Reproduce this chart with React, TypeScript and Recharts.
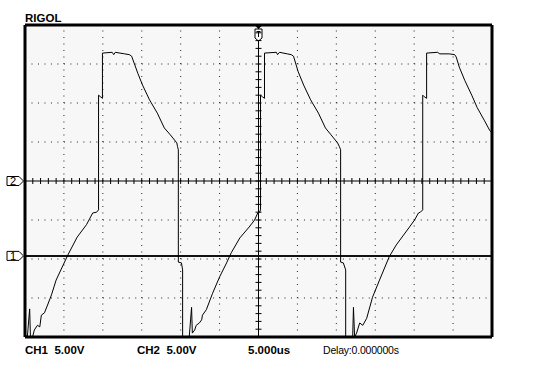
import React from 'react';
import {
  ComposedChart, Line, Scatter, XAxis, YAxis, ReferenceLine, CartesianGrid,
} from 'recharts';

// CH2 trace: time in us, volts (5 V/div, ground at centre)
const ch2Time = [
  -30.0, -29.7, -29.4, -29.3, -29.0, -28.8, -28.4, -28.1, -27.9, -27.5, -27.1, -26.6, -26.0,
  -24.5, -23.3, -22.1, -21.3, -20.8, -20.55, -20.55, -20.3, -20.05, -20.05, -18.8, -18.6, -18.4,
  -17.2, -16.6, -16.3, -15.5, -14.9, -14.0, -13.0, -12.1, -11.4, -10.5, -10.4, -10.3, -10.3,
  -9.9, -9.75, -9.75, -8.9, -8.6, -8.5, -8.2, -8.0, -7.6, -7.3, -7.2, -6.7, -5.9, -5.0, -4.1,
  -3.5, -2.4, -1.2, -0.5, -0.1, 0.13, 0.26, 0.26, 0.5, 0.77, 0.77, 2.3, 2.45, 2.7, 3.7, 4.2,
  4.5, 5.1, 5.8, 6.7, 7.7, 8.6, 9.25, 10.15, 10.4, 10.55, 10.55, 10.9, 11.2, 11.2, 12.1, 12.2,
  12.35, 12.6, 13.0, 13.4, 13.9, 14.65, 15.55, 16.8, 17.7, 19.4, 20.05, 20.55, 20.8, 21.1,
  21.1, 21.3, 21.6, 21.6, 23.0, 23.3, 24.5, 25.2, 25.4, 25.8, 26.5, 27.4, 28.1, 29.0, 29.7, 29.95,
];
const ch2Volts = [
  -19.7, -20.0, -16.4, -20.0, -19.9, -19.1, -18.5, -18.7, -17.2, -16.9, -15.9, -14.6, -12.7,
  -9.5, -7.2, -5.6, -4.1, -4.0, -3.7, 11.0, 10.8, 10.6, 16.4, 16.5, 16.2, 16.5,
  16.3, 16.2, 16.0, 13.8, 12.3, 10.4, 8.7, 6.8, 6.0, 4.9, 4.4, 4.0, -10.4,
  -10.5, -11.4, -20.0, -20.0, -16.2, -19.5, -19.1, -18.5, -18.2, -17.8, -17.2, -16.5, -14.4, -12.3, -10.5,
  -9.2, -7.3, -5.9, -5.0, -4.1, -4.0, -3.7, 11.0, 10.8, 10.6, 16.4, 16.5, 16.2, 16.5, 16.3, 16.2,
  16.0, 14.0, 12.3, 10.4, 8.7, 6.8, 6.0, 4.9, 4.4, 4.0, -10.4, -10.5, -11.4, -20.0, -20.0, -16.2,
  -20.0, -19.5, -18.2, -18.5, -17.6, -14.9, -12.7, -9.7, -8.2, -5.9, -5.0, -4.1, -4.0, -3.7,
  11.0, 10.8, 10.6, 16.4, 16.5, 16.3, 16.3, 16.2, 15.9, 14.6, 12.9, 11.0, 9.4, 7.8, 6.5, 6.2,
];

// CH1 is a flat line sitting at its own offset
const ch1Time = [-30, 30];
const ch1Volts = [-9.6, -9.6];

// 12 x 8 divisions, 5 us/div and 5 V/div
const timeGrid = [-25, -20, -15, -10, -5, 5, 10, 15, 20, 25];
const voltGrid = [-15, -10, -5, 5, 10, 15];
const timeSub = Array.from({ length: 61 }, (_, i) => i - 30);
const voltSub = Array.from({ length: 41 }, (_, i) => i - 20);

const ch2Data = ch2Time.map((t, i) => ({ t, v: ch2Volts[i] }));
const ch1Data = ch1Time.map((t, i) => ({ t, v: ch1Volts[i] }));
const xCross = timeSub.map((t) => ({ t, v: 0 }));
const yCross = voltSub.map((v) => ({ t: 0, v }));

const font = '"Liberation Sans", Arial, sans-serif';

const ChannelMark = ({ viewBox, num }: any) => {
  if (!viewBox) return null;
  const x = viewBox.x;
  const y = viewBox.y;
  return (
    <g>
      <path
        d={`M${x - 18},${y - 4.5} H${x - 6} L${x - 1.5},${y} L${x - 6},${y + 4.5} H${x - 18} Z`}
        fill="#fff" stroke="#000" strokeWidth={1}
      />
      <text x={x - 12} y={y + 4} textAnchor="middle" fontSize={11} fontFamily={font} fill="#000">{num}</text>
    </g>
  );
};

const TriggerMark = ({ viewBox }: any) => {
  if (!viewBox) return null;
  const x = viewBox.x;
  const y = viewBox.y;
  return (
    <g>
      <path d={`M${x - 3},${y + 1} L${x + 3},${y + 1} L${x},${y + 4} Z`} fill="#000" />
      <path
        d={`M${x - 3.5},${y + 4} H${x + 3.5} V${y + 13} L${x},${y + 16} L${x - 3.5},${y + 13} Z`}
        fill="#fff" stroke="#000" strokeWidth={1}
      />
      <path d={`M${x - 2},${y + 6.5} H${x + 2} M${x},${y + 6.5} V${y + 12}`} stroke="#000" strokeWidth={1} />
    </g>
  );
};

const xTick = (p: any) => (
  <line x1={p.cx} x2={p.cx} y1={p.cy - 3} y2={p.cy + 3} stroke="#000" strokeWidth={1} />
);
const yTick = (p: any) => (
  <line x1={p.cx - 3} x2={p.cx + 3} y1={p.cy} y2={p.cy} stroke="#000" strokeWidth={1} />
);

const label = (text: string, left: number, bold = true, size = 11.5, spacing = 0) => (
  <div
    style={{
      position: 'absolute', left, top: 344, fontFamily: font, fontSize: size,
      fontWeight: bold ? 700 : 400, lineHeight: '12px', whiteSpace: 'pre', letterSpacing: spacing,
    }}
  >
    {text}
  </div>
);

export default function App() {
  const frame = { stroke: '#000', strokeWidth: 3 };
  const tickL = { stroke: '#000', strokeWidth: 1 };
  return (
    <div style={{ position: 'absolute', left: 0, top: 0, width: 546, height: 390, background: '#fff' }}>
      <div
        style={{
          position: 'absolute', left: 25, top: 11.5, fontFamily: font, fontSize: 11.5,
          fontWeight: 700, lineHeight: '12px',
        }}
      >
        RIGOL
      </div>
      <ComposedChart width={546} height={390} margin={{ top: 25, right: 54, bottom: 53, left: 25 }}>
        <CartesianGrid horizontal={false} vertical={false} fill="#f7f7f7" xAxisId="t" yAxisId="v" />
        <XAxis xAxisId="t" dataKey="t" type="number" domain={[-30, 30]} hide allowDataOverflow />
        <YAxis yAxisId="v" dataKey="v" type="number" domain={[-20, 20]} hide allowDataOverflow />

        {timeGrid.map((t) => (
          <ReferenceLine key={'gx' + t} xAxisId="t" yAxisId="v" x={t} stroke="#222" strokeDasharray="1 5.5" />
        ))}
        {voltGrid.map((v) => (
          <ReferenceLine key={'gy' + v} xAxisId="t" yAxisId="v" y={v} stroke="#222" strokeDasharray="1 5.487" />
        ))}
        <ReferenceLine xAxisId="t" yAxisId="v" y={0} stroke="#000" label={<ChannelMark num="2" />} />
        <ReferenceLine xAxisId="t" yAxisId="v" x={0} stroke="#000" label={<TriggerMark />} />
        <ReferenceLine xAxisId="t" yAxisId="v" y={ch1Volts[0]} strokeOpacity={0} label={<ChannelMark num="1" />} />

        <XAxis xAxisId="top" orientation="top" mirror type="number" domain={[-30, 30]} ticks={timeSub}
          interval={0} tick={false} tickSize={4} axisLine={frame} tickLine={tickL} />
        <XAxis xAxisId="bottom" orientation="bottom" mirror type="number" domain={[-30, 30]} ticks={timeSub}
          interval={0} tick={false} tickSize={4} axisLine={frame} tickLine={tickL} />
        <YAxis yAxisId="left" orientation="left" mirror type="number" domain={[-20, 20]} ticks={voltSub}
          interval={0} tick={false} tickSize={4} axisLine={frame} tickLine={tickL} />
        <YAxis yAxisId="right" orientation="right" mirror type="number" domain={[-20, 20]} ticks={voltSub}
          interval={0} tick={false} tickSize={4} axisLine={frame} tickLine={tickL} />

        <Scatter xAxisId="t" yAxisId="v" data={xCross} shape={xTick} isAnimationActive={false} />
        <Scatter xAxisId="t" yAxisId="v" data={yCross} shape={yTick} isAnimationActive={false} />

        <Line xAxisId="t" yAxisId="v" data={ch1Data} dataKey="v" stroke="#111" strokeWidth={2}
          dot={false} isAnimationActive={false} />
        <Line xAxisId="t" yAxisId="v" data={ch2Data} dataKey="v" stroke="#000" strokeWidth={1}
          dot={false} isAnimationActive={false} />
      </ComposedChart>
      {label('CH1  5.00V', 25)}
      {label('CH2  5.00V', 137)}
      {label('5.000us', 248)}
      {label('Delay:0.000000s', 323, false, 10.5, -0.2)}
    </div>
  );
}
